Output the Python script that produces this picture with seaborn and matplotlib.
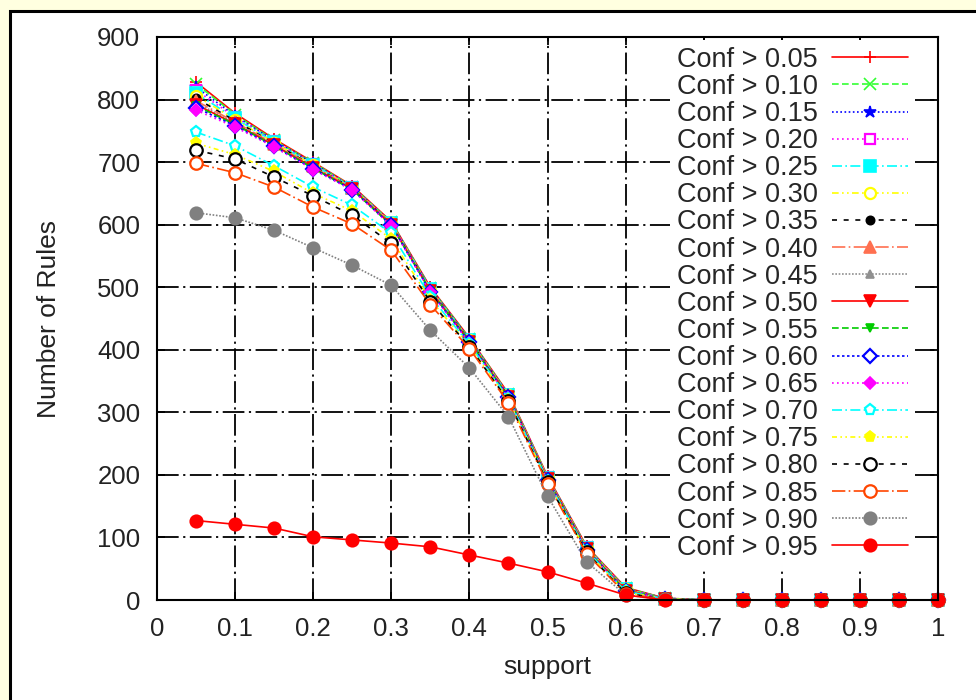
import matplotlib
matplotlib.use("Agg")
import matplotlib.pyplot as plt
from matplotlib.patches import Rectangle
import seaborn as sns

# ---------------- data ----------------
support = [0.05, 0.10, 0.15, 0.20, 0.25, 0.30, 0.35, 0.40, 0.45, 0.50,
           0.55, 0.60, 0.65, 0.70, 0.75, 0.80, 0.85, 0.90, 0.95, 1.00]

tail = [0, 0, 0, 0, 0, 0, 0]
rules_c05 = [828, 778, 737, 700, 662, 605, 500, 419, 330, 198, 86, 20, 3] + tail
rules_c10 = [825, 776, 735, 699, 661, 604, 499, 418, 329, 197, 85, 19, 3] + tail
rules_c15 = [820, 774, 734, 698, 660, 603, 498, 417, 328, 196, 84, 18, 3] + tail
rules_c20 = [815, 772, 733, 697, 660, 603, 497, 416, 328, 196, 84, 18, 2] + tail
rules_c25 = [810, 770, 732, 696, 659, 602, 497, 416, 327, 195, 83, 17, 2] + tail
rules_c30 = [806, 768, 731, 695, 659, 602, 496, 415, 327, 195, 83, 17, 2] + tail
rules_c35 = [802, 766, 730, 694, 658, 601, 496, 415, 326, 194, 82, 16, 2] + tail
rules_c40 = [798, 764, 729, 693, 658, 601, 495, 414, 326, 194, 82, 16, 2] + tail
rules_c45 = [795, 762, 728, 692, 657, 600, 495, 414, 325, 193, 81, 15, 2] + tail
rules_c50 = [792, 761, 727, 691, 657, 600, 494, 413, 325, 193, 81, 15, 2] + tail
rules_c55 = [790, 760, 726, 690, 656, 599, 494, 413, 324, 192, 80, 15, 2] + tail
rules_c60 = [787, 758, 725, 689, 656, 599, 493, 412, 324, 192, 80, 14, 2] + tail
rules_c65 = [783, 756, 724, 688, 655, 598, 492, 411, 323, 191, 79, 14, 2] + tail
rules_c70 = [748, 726, 694, 660, 631, 586, 485, 409, 322, 191, 79, 14, 2] + tail
rules_c75 = [730, 712, 685, 650, 622, 577, 480, 406, 320, 189, 77, 12, 2] + tail
rules_c80 = [719, 705, 676, 646, 615, 570, 477, 405, 318, 188, 76, 11, 1] + tail
rules_c85 = [698, 683, 660, 628, 601, 559, 472, 402, 315, 186, 74, 10, 1] + tail
rules_c90 = [619, 611, 591, 563, 535, 503, 431, 371, 293, 166, 61, 8, 1] + tail
rules_c95 = [127, 121, 115, 101, 96, 91, 85, 72, 59, 45, 27, 8, 0] + tail

labels = ["Conf > 0.05", "Conf > 0.10", "Conf > 0.15", "Conf > 0.20",
          "Conf > 0.25", "Conf > 0.30", "Conf > 0.35", "Conf > 0.40",
          "Conf > 0.45", "Conf > 0.50", "Conf > 0.55", "Conf > 0.60",
          "Conf > 0.65", "Conf > 0.70", "Conf > 0.75", "Conf > 0.80",
          "Conf > 0.85", "Conf > 0.90", "Conf > 0.95"]
series = [rules_c05, rules_c10, rules_c15, rules_c20, rules_c25, rules_c30,
          rules_c35, rules_c40, rules_c45, rules_c50, rules_c55, rules_c60,
          rules_c65, rules_c70, rules_c75, rules_c80, rules_c85, rules_c90,
          rules_c95]

x_ticks = [0, 0.1, 0.2, 0.3, 0.4, 0.5, 0.6, 0.7, 0.8, 0.9, 1.0]
x_tick_labels = ["0", "0.1", "0.2", "0.3", "0.4", "0.5", "0.6", "0.7", "0.8", "0.9", "1"]
y_ticks = [0, 100, 200, 300, 400, 500, 600, 700, 800, 900]

# ---------------- styles ----------------
colors = ["#FF0000", "#33FF33", "#0000FF", "#FF00FF", "#00FFFF", "#FFFF00",
          "#000000", "#FF7050", "#909090",
          "#FF0000", "#00CC00", "#0000FF", "#FF00FF", "#00FFFF", "#FFFF00",
          "#000000", "#FF4500", "#808080", "#FF0000"]
markers = ["+", "x", "*", "s", "s", "o", "o", "^", "^",
           "v", "v", "D", "D", "p", "p", "o", "o", "o", "o"]
filled = [True, True, True, False, True, False, True, True, True,
          True, True, False, True, False, True, False, False, True, True]
msizes = [9, 8, 9, 7, 8, 8, 6, 8, 6,
          8, 6, 7, 6, 8, 8, 9, 9, 9, 9]
linestyles = ["-", (0, (4, 2)), (0, (1, 1.5)), (0, (1, 2)), (0, (6, 2, 1, 2)),
              (0, (4, 2, 1, 2, 1, 2)), (0, (3, 4)), (0, (8, 2, 1, 2)), (0, (1, 1)),
              "-", (0, (4, 2)), (0, (1.5, 1.5)), (0, (1, 2)), (0, (6, 2, 1, 2)),
              (0, (3, 2, 1, 2, 1, 2)), (0, (3, 4)), (0, (8, 2, 1, 2)), (0, (1, 1)),
              "-"]

# ---------------- figure ----------------
sns.set_style("ticks")
plt.rcParams["font.family"] = ["Liberation Sans", "DejaVu Sans"]

fig = plt.figure(figsize=(9.76, 7.0), dpi=100, facecolor="#FFFFE0")
fig.patches.append(Rectangle((10 / 976, -0.05), 1.2, 1.05 - 11 / 700,
                             transform=fig.transFigure, facecolor="white",
                             edgecolor="black", linewidth=2.2, zorder=-5))

ax = fig.add_axes([157 / 976, 100 / 700, 781 / 976, 563 / 700])
ax.set_facecolor("white")

for vals, lab, c, m, f, ms, ls in zip(series, labels, colors, markers, filled,
                                      msizes, linestyles):
    sns.lineplot(x=support, y=vals, ax=ax, color=c, linestyle=ls, linewidth=1.2,
                 marker=m, markersize=ms, markeredgecolor=c,
                 markerfacecolor=(c if f else "white"),
                 markeredgewidth=(1.6 if not f else 1.2),
                 label=lab, clip_on=False)

ax.set_xlim(0, 1)
ax.set_ylim(0, 900)
ax.set_xticks(x_ticks)
ax.set_xticklabels(x_tick_labels)
ax.set_yticks(y_ticks)

ax.grid(True, color="black", linestyle=(0, (12, 2.5, 1.2, 2.5)), linewidth=1.3)
ax.set_axisbelow(True)
for sp in ax.spines.values():
    sp.set_visible(True)
    sp.set_color("black")
    sp.set_linewidth(1.5)

ax.tick_params(axis="both", direction="in", length=6, width=1.3,
               top=True, right=True, labelsize=18.5, colors="black",
               labelcolor="#222222", pad=12)

ax.set_xlabel("support", fontsize=19, color="#222222", labelpad=10)
ax.set_ylabel("Number of Rules", fontsize=19, color="#222222", labelpad=26)

leg = ax.legend(loc="upper right",
                bbox_to_anchor=((915 - 157) / 781, (600 - 40) / 563),
                frameon=True, fancybox=False, framealpha=1.0,
                facecolor="white", edgecolor="none",
                markerfirst=False, fontsize=19.5, labelspacing=0.041,
                handlelength=2.8, handletextpad=0.55, borderpad=0.25,
                borderaxespad=0, numpoints=1)
leg.set_zorder(5)

fig.savefig("out.png", dpi=100, facecolor=fig.get_facecolor())
